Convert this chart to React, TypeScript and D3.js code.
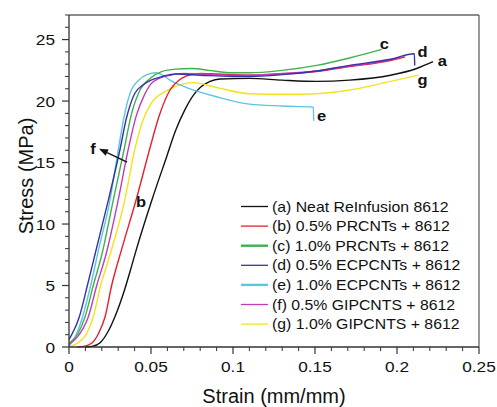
import React from "react";
import * as d3 from "d3";

// ---- data (strain mm/mm, stress MPa) ----
const seriesNames = [
  "(a) Neat ReInfusion 8612",
  "(b) 0.5% PRCNTs + 8612",
  "(c) 1.0% PRCNTs + 8612",
  "(d) 0.5% ECPCNTs + 8612",
  "(e) 1.0% ECPCNTs + 8612",
  "(f) 0.5% GIPCNTS + 8612",
  "(g) 1.0% GIPCNTS + 8612",
];
const seriesColors = ["#111111", "#e8202a", "#3fb24a", "#3434a6", "#5cc6e0", "#c03cbc", "#f2e41c"];

const curveA: [number, number][] = [
  [0.01, 0], [0.014, 0.05], [0.019, 0.35], [0.024, 1.3], [0.028, 2.46], [0.034, 4.7], [0.038, 6.5],
  [0.041, 7.9], [0.0504, 11.9], [0.0596, 15.5], [0.065, 17.6], [0.0707, 19.3], [0.076, 20.5],
  [0.08, 21.1], [0.086, 21.6], [0.092, 21.8], [0.11, 21.85], [0.13, 21.7], [0.151, 21.6],
  [0.171, 21.7], [0.196, 22.1], [0.212, 22.65], [0.222, 23.2],
];
const curveB: [number, number][] = [
  [0.005, 0], [0.009, 0.05], [0.0138, 0.3], [0.018, 1.1], [0.022, 2.46], [0.026, 5.0], [0.032, 7.9],
  [0.0409, 11.95], [0.049, 16.0], [0.055, 18.8], [0.0616, 20.9], [0.067, 21.7], [0.0718, 22.05],
  [0.08, 22.25], [0.09, 22.2], [0.11, 22.1], [0.13, 22.2], [0.151, 22.4], [0.171, 22.8],
  [0.196, 23.3], [0.205, 23.6],
];
const curveC: [number, number][] = [
  [0, 0.3], [0.0055, 1.1], [0.0098, 2.46], [0.0148, 5], [0.02, 7.5], [0.027, 11.95], [0.0335, 16],
  [0.038, 18.9], [0.0433, 20.9], [0.05, 21.9], [0.0565, 22.4], [0.065, 22.6], [0.075, 22.65],
  [0.085, 22.5], [0.1, 22.3], [0.11, 22.3], [0.13, 22.5], [0.151, 22.9], [0.171, 23.5], [0.1907, 24.2],
];
const curveD: [number, number][] = [
  [0, 0.6], [0.0063, 2.46], [0.0112, 5], [0.0158, 7.5], [0.024, 11.95], [0.031, 16], [0.035, 18.6],
  [0.04, 20.6], [0.045, 21.3], [0.05, 21.7], [0.057, 22.0], [0.065, 22.2], [0.08, 22.1], [0.1, 22.0],
  [0.11, 22.0], [0.13, 22.15], [0.151, 22.45], [0.171, 22.9], [0.196, 23.4], [0.2106, 23.85],
  [0.2108, 22.9],
];
const curveE: [number, number][] = [
  [0, 0.1], [0.004, 0.9], [0.0083, 2.46], [0.0132, 5], [0.018, 7.9], [0.025, 11.95], [0.03, 16],
  [0.034, 19.0], [0.038, 20.9], [0.0425, 21.7], [0.0475, 22.15], [0.053, 22.3], [0.0565, 22.15],
  [0.0616, 21.7], [0.0718, 21.1], [0.09, 20.35], [0.11, 19.75], [0.13, 19.6], [0.149, 19.5], [0.1492, 18.4],
];
const curveF: [number, number][] = [
  [0, 0.2], [0.005, 0.8], [0.0118, 2.46], [0.0169, 5], [0.0225, 7.5], [0.03, 11.95], [0.036, 16],
  [0.041, 18.8], [0.046, 20.5], [0.05, 21.4], [0.055, 21.85], [0.0616, 22.1], [0.07, 22.25], [0.08, 22.2],
  [0.1, 22.1], [0.11, 22.1], [0.13, 22.25], [0.151, 22.45], [0.171, 22.85], [0.196, 23.35],
  [0.202, 23.55],
];
const curveG: [number, number][] = [
  [0, 0.05], [0.005, 0.3], [0.0108, 1.1], [0.0148, 2.46], [0.0193, 5], [0.025, 7.5], [0.034, 11.95],
  [0.04, 16], [0.045, 18.4], [0.05, 19.8], [0.0596, 20.85], [0.0697, 21.4], [0.076, 21.5],
  [0.09, 21.1], [0.11, 20.6], [0.13, 20.55], [0.151, 20.6], [0.171, 20.9], [0.196, 21.6],
  [0.213, 22.1],
];
const allCurves = [curveA, curveB, curveC, curveD, curveE, curveF, curveG];
const drawOrder = [0, 6, 4, 2, 1, 5, 3];

// curve letter annotations (strain, stress of text anchor/baseline)
const annoLetters = ["a", "b", "c", "d", "e", "f", "g"];
const annoPos: [number, number][] = [
  [0.2276, 22.87], [0.0439, 11.4], [0.1923, 24.2], [0.2155, 23.55], [0.154, 18.4], [0.0146, 15.7], [0.2155, 21.3],
];
// arrow for f: tail -> tip
const arrowF: [number, number][] = [[0.0354, 15.04], [0.0183, 16.12]];

const xTicks = [0, 0.05, 0.1, 0.15, 0.2, 0.25];
const xTickLabels = ["0", "0.05", "0.1", "0.15", "0.2", "0.25"];
const yTicks = [0, 5, 10, 15, 20, 25];
const yTickLabels = ["0", "5", "10", "15", "20", "25"];
const xTitle = "Strain (mm/mm)";
const yTitle = "Stress (MPa)";

const W = 497;
const H = 407;
const FONT = "'Liberation Sans', Arial, Helvetica, sans-serif";

function SText(props: {
  x: number; y: number; sx: number; size: number; anchor?: string; weight?: string; children: any;
}) {
  const { x, y, sx, size, anchor, weight, children } = props;
  return (
    <text
      transform={`translate(${x},${y}) scale(${sx},1)`}
      fontSize={size}
      fontFamily={FONT}
      fontWeight={weight || "normal"}
      textAnchor={anchor || "start"}
      fill="#111"
    >
      {children}
    </text>
  );
}

export default function App() {
  const x = d3.scaleLinear().domain([0, 0.25]).range([69, 479]);
  const y = d3.scaleLinear().domain([0, 27]).range([347, 15]);
  const line = d3
    .line<[number, number]>()
    .x((d) => x(d[0]))
    .y((d) => y(d[1]))
    .curve(d3.curveMonotoneX);

  const xMinor = d3.range(0, 0.2501, 0.01).filter((v) => Math.abs(v / 0.05 - Math.round(v / 0.05)) > 1e-6);
  const yMinor = d3.range(0, 27.001, 1).filter((v) => v % 5 !== 0);

  const [x0, x1] = x.range();
  const [y0, y1] = y.range();

  const legX0 = 241;
  const legX1 = 268;
  const legTextX = 272;
  const legY0 = 206.5;
  const legStep = 19.6;

  const tail = arrowF[0];
  const tip = arrowF[1];
  const tx = x(tip[0]);
  const ty = y(tip[1]);
  const ang = Math.atan2(ty - y(tail[1]), tx - x(tail[0]));
  const ah = 9;
  const aw = 3.5;
  const bx = tx - ah * Math.cos(ang);
  const by = ty - ah * Math.sin(ang);
  const headPts = [
    [tx, ty],
    [bx + aw * Math.sin(ang), by - aw * Math.cos(ang)],
    [bx - aw * Math.sin(ang), by + aw * Math.cos(ang)],
  ]
    .map((p) => p.join(","))
    .join(" ");

  return (
    <svg width={W} height={H} style={{ position: "absolute", left: 0, top: 0, background: "#fff" }}>
      {/* frame */}
      <line x1={x0} x2={x1} y1={y1} y2={y1} stroke="#666" strokeWidth={1.3} />
      <line x1={x1} x2={x1} y1={y1} y2={y0} stroke="#666" strokeWidth={1.3} />

      {/* curves */}
      {drawOrder.map((i) => (
        <path key={i} d={line(allCurves[i]) || ""} fill="none" stroke={seriesColors[i]} strokeWidth={1.4} />
      ))}

      {/* axes */}
      <line x1={x0} x2={x1} y1={y0} y2={y0} stroke="#333" strokeWidth={1.3} />
      <line x1={x0} x2={x0} y1={y0} y2={y1} stroke="#333" strokeWidth={1.3} />
      {xTicks.map((t, i) => (
        <g key={"xt" + i}>
          <line x1={x(t)} x2={x(t)} y1={y0} y2={y0 + 7} stroke="#333" strokeWidth={1.2} />
          <SText x={x(t)} y={372} sx={1.15} size={15} anchor="middle">
            {xTickLabels[i]}
          </SText>
        </g>
      ))}
      {xMinor.map((t, i) => (
        <line key={"xm" + i} x1={x(t)} x2={x(t)} y1={y0} y2={y0 + 4} stroke="#333" strokeWidth={1} />
      ))}
      {yTicks.map((t, i) => (
        <g key={"yt" + i}>
          <line x1={x0 - 7} x2={x0} y1={y(t)} y2={y(t)} stroke="#333" strokeWidth={1.2} />
          <SText x={x0 - 14} y={y(t) + 5.5} sx={1.15} size={15} anchor="end">
            {yTickLabels[i]}
          </SText>
        </g>
      ))}
      {yMinor.map((t, i) => (
        <line key={"ym" + i} x1={x0 - 4} x2={x0} y1={y(t)} y2={y(t)} stroke="#333" strokeWidth={1} />
      ))}

      {/* titles */}
      <text x={(x0 + x1) / 2} y={403} fontSize={20} fontFamily={FONT} textAnchor="middle" fill="#111">
        {xTitle}
      </text>
      <text
        transform={`translate(33,${(y0 + y1) / 2 - 5}) rotate(-90)`}
        fontSize={20}
        fontFamily={FONT}
        textAnchor="middle"
        fill="#111"
      >
        {yTitle}
      </text>

      {/* annotations */}
      {annoLetters.map((s, i) => (
        <SText key={"an" + i} x={x(annoPos[i][0])} y={y(annoPos[i][1])} sx={1.1} size={15} anchor="middle" weight="bold">
          {s}
        </SText>
      ))}
      <line x1={x(tail[0])} y1={y(tail[1])} x2={bx} y2={by} stroke="#111" strokeWidth={1.3} />
      <polygon points={headPts} fill="#111" />

      {/* legend */}
      {seriesNames.map((name, i) => {
        const ly = legY0 + i * legStep;
        const thick = i === 2 || i === 4;
        return (
          <g key={"lg" + i}>
            <line x1={legX0} x2={legX1} y1={ly} y2={ly} stroke={seriesColors[i]} strokeWidth={thick ? 2.4 : 1.3} />
            <SText x={legTextX} y={ly + 5} sx={1.13} size={14}>
              {name}
            </SText>
          </g>
        );
      })}
    </svg>
  );
}
